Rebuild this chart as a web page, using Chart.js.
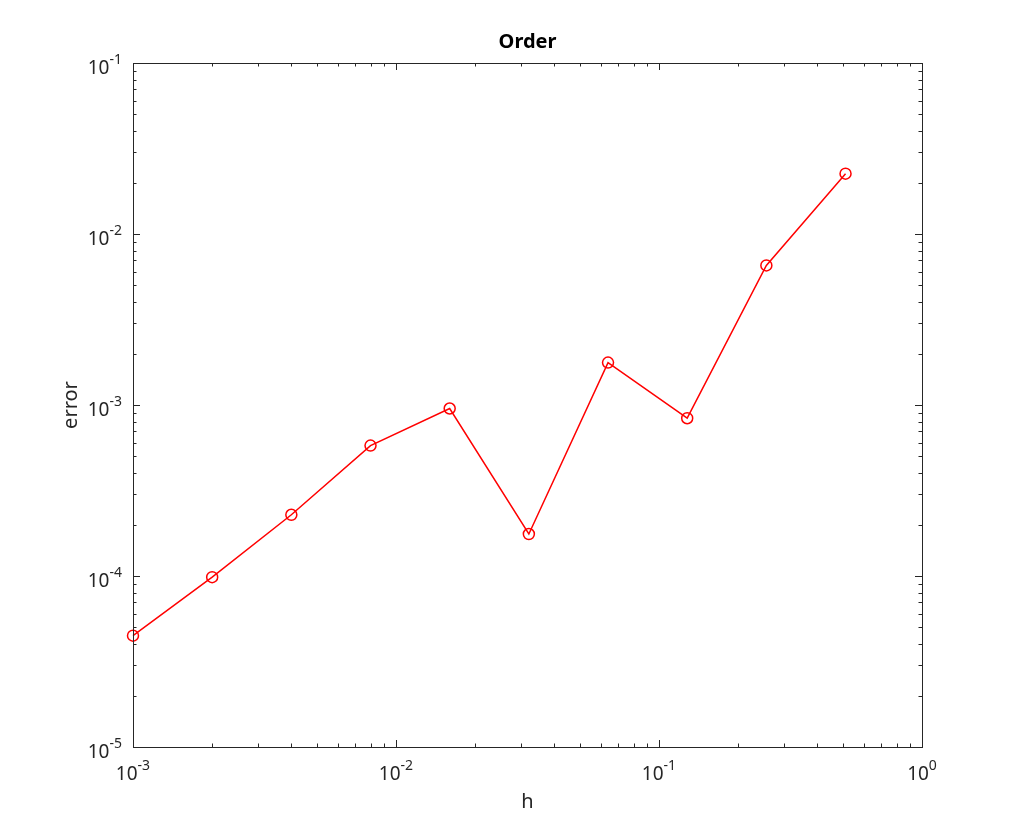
<!DOCTYPE html>
<html>
<head>
<meta charset="utf-8">
<title>Order</title>
<script src="https://cdn.jsdelivr.net/npm/chart.js@4"></script>
<style>
  body { margin: 0; background: #fff; }
  canvas { display: block; }
</style>
</head>
<body>
<canvas id="orderChart" width="1020" height="840"></canvas>
<script>
// step sizes h and the measured error for each one
const stepSizes = [0.001, 0.002, 0.004, 0.008, 0.016, 0.032, 0.064, 0.128, 0.256, 0.512];
const errors = [4.48e-5, 9.84e-5, 2.28e-4, 5.79e-4, 9.54e-4, 1.76e-4, 1.77e-3, 8.37e-4, 6.55e-3, 2.254e-2];

// decades shown on each axis (labels are 10^n)
const xTickExponents = [-3, -2, -1, 0];
const yTickExponents = [-5, -4, -3, -2, -1];

const FONT = '"Noto Sans", "Open Sans", "DejaVu Sans", sans-serif';
const AXIS_COLOR = '#262626';

// writes "10" with a raised exponent, anchored on (x, baseline)
function drawPower(ctx, exp, x, baseline, align) {
  const base = '10';
  const sup = String(exp);
  ctx.font = `19px ${FONT}`;
  const wBase = ctx.measureText(base).width;
  ctx.font = `14px ${FONT}`;
  const wSup = ctx.measureText(sup).width;
  const total = wBase + wSup;
  let startX = x;
  if (align === 'center') startX = x - total / 2;
  if (align === 'right') startX = x - total;
  ctx.textAlign = 'left';
  ctx.textBaseline = 'alphabetic';
  ctx.fillStyle = AXIS_COLOR;
  ctx.font = `19px ${FONT}`;
  ctx.fillText(base, startX, baseline);
  ctx.font = `14px ${FONT}`;
  ctx.fillText(sup, startX + wBase, baseline - 10);
}

// MATLAB-like box with inward ticks on all four sides
const axesFrame = {
  id: 'axesFrame',
  afterDraw(chart) {
    const { ctx, chartArea } = chart;
    const { left, right, top, bottom } = chartArea;
    const xs = chart.scales.x;
    const ys = chart.scales.y;

    ctx.save();
    ctx.strokeStyle = AXIS_COLOR;
    ctx.lineWidth = 1;
    ctx.strokeRect(Math.round(left) + 0.5, Math.round(top) + 0.5,
      Math.round(right - left), Math.round(bottom - top));

    const seg = (x1, y1, x2, y2) => {
      ctx.beginPath();
      ctx.moveTo(x1, y1);
      ctx.lineTo(x2, y2);
      ctx.stroke();
    };

    // x ticks
    xTickExponents.forEach((e, i) => {
      for (let m = 1; m <= 9; m++) {
        if (i === xTickExponents.length - 1 && m > 1) break;
        const v = m * Math.pow(10, e);
        const px = Math.round(xs.getPixelForValue(v)) + 0.5;
        const len = m === 1 ? 7 : 3.5;
        seg(px, bottom, px, bottom - len);
        seg(px, top, px, top + len);
      }
    });

    // y ticks
    yTickExponents.forEach((e, i) => {
      for (let m = 1; m <= 9; m++) {
        if (i === yTickExponents.length - 1 && m > 1) break;
        const v = m * Math.pow(10, e);
        const py = Math.round(ys.getPixelForValue(v)) + 0.5;
        const len = m === 1 ? 7 : 3.5;
        seg(left, py, left + len, py);
        seg(right, py, right - len, py);
      }
    });

    // tick labels
    xTickExponents.forEach(e => {
      const px = xs.getPixelForValue(Math.pow(10, e));
      drawPower(ctx, e, px, bottom + 33, 'center');
    });
    yTickExponents.forEach(e => {
      const py = ys.getPixelForValue(Math.pow(10, e));
      drawPower(ctx, e, left - 11, py + 10.5, 'right');
    });

    ctx.restore();
  }
};

const points = stepSizes.map((h, i) => ({ x: h, y: errors[i] }));

new Chart(document.getElementById('orderChart'), {
  type: 'line',
  data: {
    datasets: [{
      label: 'error',
      data: points,
      borderColor: '#ff0000',
      borderWidth: 1.5,
      pointStyle: 'circle',
      pointRadius: 5.5,
      pointBorderWidth: 1.5,
      pointBorderColor: '#ff0000',
      pointBackgroundColor: 'rgba(0,0,0,0)',
      tension: 0,
      fill: false,
      clip: false
    }]
  },
  options: {
    responsive: false,
    animation: false,
    devicePixelRatio: 1,
    layout: { padding: { left: 0, right: 98, top: 0, bottom: 0 } },
    plugins: {
      legend: { display: false },
      tooltip: { enabled: false },
      title: {
        display: true,
        fullSize: false,   // center over the plot box, not the whole canvas
        text: 'Order',
        color: '#000',
        font: { family: FONT, size: 20, weight: 'bold' },
        padding: { top: 30, bottom: 9 }
      }
    },
    scales: {
      x: {
        type: 'logarithmic',
        position: 'bottom',
        min: 1e-3,
        max: 1,
        grid: { display: false },
        border: { display: false },
        ticks: { display: false },
        title: {
          display: true,
          text: 'h',
          color: AXIS_COLOR,
          font: { family: FONT, size: 20 },
          padding: { top: 0, bottom: 26 }
        },
        afterFit(scale) { scale.height = 93; }
      },
      y: {
        type: 'logarithmic',
        position: 'left',
        min: 1e-5,
        max: 1e-1,
        grid: { display: false },
        border: { display: false },
        ticks: { display: false },
        title: {
          display: true,
          text: 'error',
          color: AXIS_COLOR,
          font: { family: FONT, size: 20 },
          padding: { top: 59, bottom: 0 }
        },
        afterFit(scale) { scale.width = 133; }
      }
    }
  },
  plugins: [axesFrame]
});
</script>
</body>
</html>
